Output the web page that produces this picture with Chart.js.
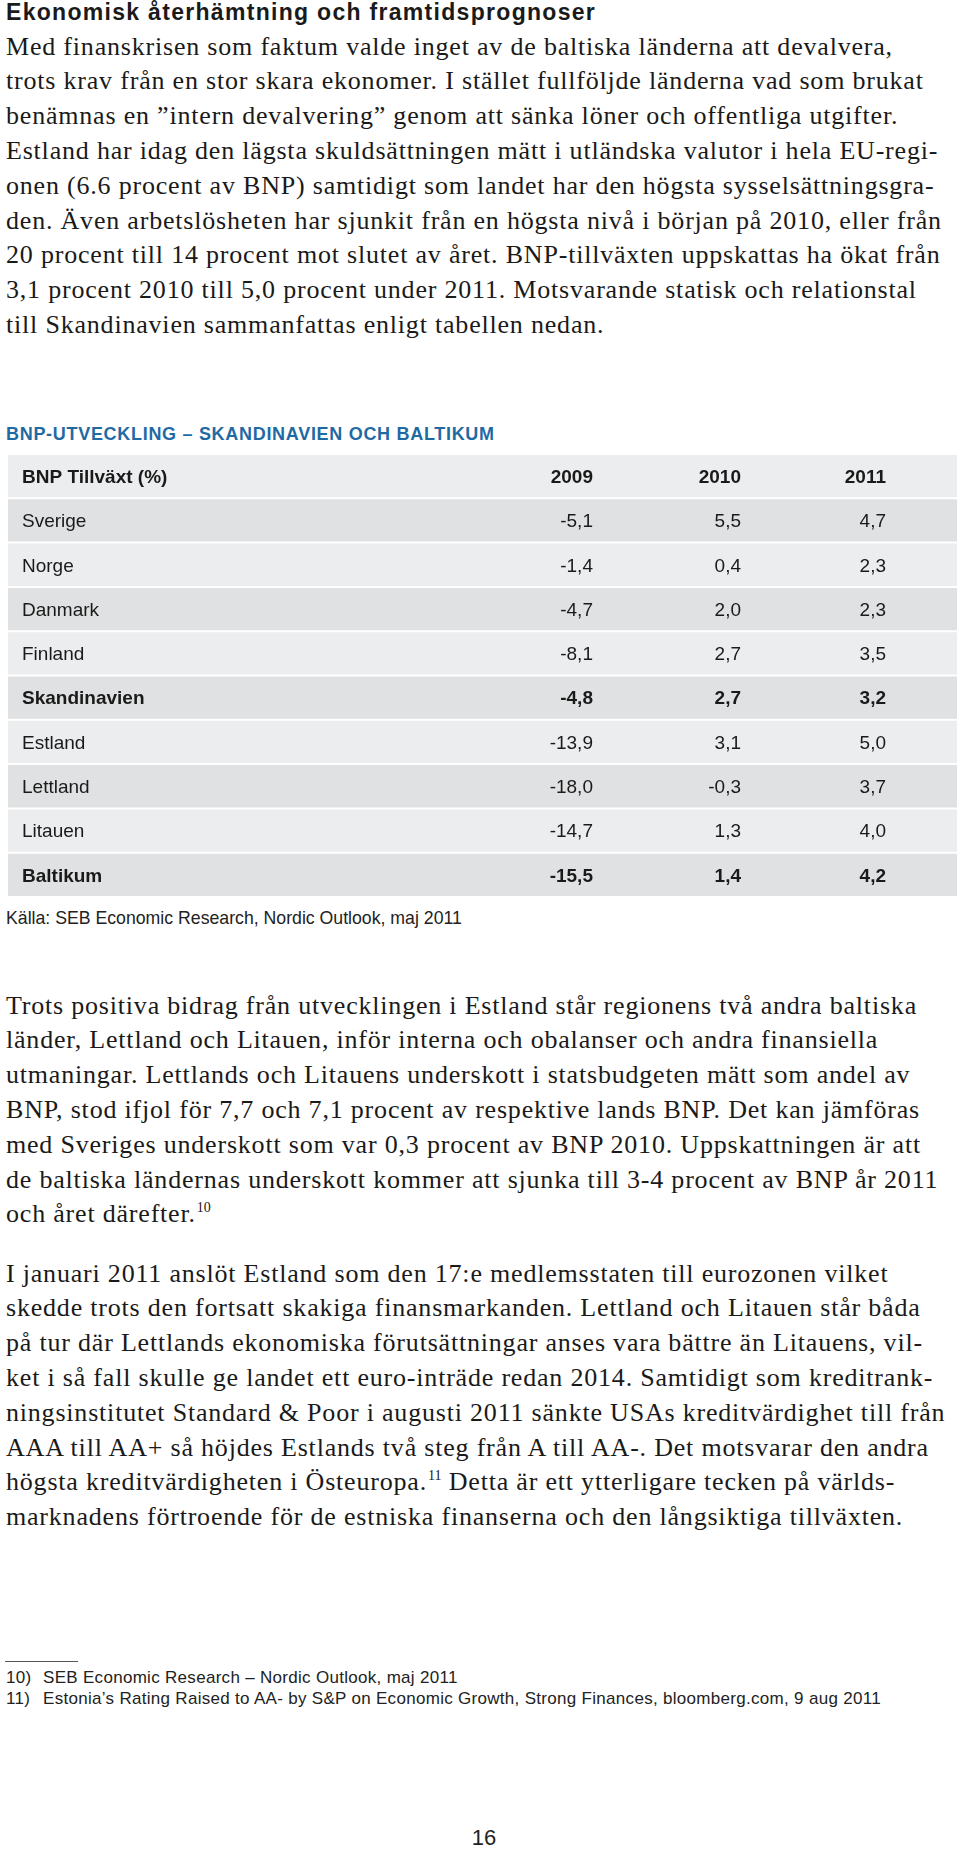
<!DOCTYPE html>
<html lang="sv">
<head>
<meta charset="utf-8">
<title>BNP-utveckling – Skandinavien och Baltikum</title>
<script src="https://cdn.jsdelivr.net/npm/chart.js@4"></script>
<style>
  html, body { margin: 0; padding: 0; background: #fff; }
  body { width: 960px; height: 1849px; position: relative; overflow: hidden; color: #1a1a1a; }
  .abs { position: absolute; white-space: nowrap; }
  .title { left: 6px; top: -1px; font: bold 23px/26px "Liberation Sans", Arial, sans-serif; letter-spacing: 1.3px; }
  .para { left: 6px; font: 26px/34.8px "Liberation Serif", "Times New Roman", serif; letter-spacing: 0.8px; }
  .para span { display: block; height: 34.8px; }
  .para sup { font-size: 14px; letter-spacing: 0; vertical-align: baseline; position: relative; top: -10px; margin-left: 1px; }
  .tbl-title { left: 6px; top: 424px; font: bold 18px/20px "Liberation Sans", Arial, sans-serif; letter-spacing: 0.7px; color: #1f6aa3; }
  .source { left: 6px; top: 908px; font: 17.7px/20px "Liberation Sans", Arial, sans-serif; color: #222; }
  #tableWrap { position: absolute; left: 8px; top: 454px; width: 949px; height: 443px; }
  .rule { position: absolute; left: 5px; top: 1661px; width: 73px; height: 1px; background: #555; }
  .fn { left: 6px; font: 17px/20px "Liberation Sans", Arial, sans-serif; letter-spacing: 0.3px; color: #222; }
  .fn b { font-weight: normal; display: inline-block; width: 37px; }
  .pageno { left: 0; width: 968px; text-align: center; top: 1826px; font: 22px/24px "Liberation Sans", Arial, sans-serif; color: #222; }
</style>
</head>
<body>
<div class="abs title">Ekonomisk återhämtning och framtidsprognoser</div>

<div class="abs para" style="top:29.6px">
  <span>Med finanskrisen som faktum valde inget av de baltiska länderna att devalvera,</span>
  <span>trots krav från en stor skara ekonomer. I stället fullföljde länderna vad som brukat</span>
  <span>benämnas en ”intern devalvering” genom att sänka löner och offentliga utgifter.</span>
  <span>Estland har idag den lägsta skuldsättningen mätt i utländska valutor i hela EU-regi-</span>
  <span>onen (6.6 procent av BNP) samtidigt som landet har den högsta sysselsättningsgra-</span>
  <span>den. Även arbetslösheten har sjunkit från en högsta nivå i början på 2010, eller från</span>
  <span>20 procent till 14 procent mot slutet av året. BNP-tillväxten uppskattas ha ökat från</span>
  <span>3,1 procent 2010 till 5,0 procent under 2011. Motsvarande statisk och relationstal</span>
  <span>till Skandinavien sammanfattas enligt tabellen nedan.</span>
</div>

<div class="abs tbl-title">BNP-UTVECKLING – SKANDINAVIEN OCH BALTIKUM</div>
<div id="tableWrap"><canvas id="gdpTable"></canvas></div>
<div class="abs source">Källa: SEB Economic Research, Nordic Outlook, maj 2011</div>

<div class="abs para" style="top:988.6px">
  <span>Trots positiva bidrag från utvecklingen i Estland står regionens två andra baltiska</span>
  <span>länder, Lettland och Litauen, inför interna och obalanser och andra finansiella</span>
  <span>utmaningar. Lettlands och Litauens underskott i statsbudgeten mätt som andel av</span>
  <span>BNP, stod ifjol för 7,7 och 7,1 procent av respektive lands BNP. Det kan jämföras</span>
  <span>med Sveriges underskott som var 0,3 procent av BNP 2010. Uppskattningen är att</span>
  <span>de baltiska ländernas underskott kommer att sjunka till 3-4 procent av BNP år 2011</span>
  <span>och året därefter.<sup>10</sup></span>
</div>

<div class="abs para" style="top:1256.6px">
  <span>I januari 2011 anslöt Estland som den 17:e medlemsstaten till eurozonen vilket</span>
  <span>skedde trots den fortsatt skakiga finansmarkanden. Lettland och Litauen står båda</span>
  <span>på tur där Lettlands ekonomiska förutsättningar anses vara bättre än Litauens, vil-</span>
  <span>ket i så fall skulle ge landet ett euro-inträde redan 2014. Samtidigt som kreditrank-</span>
  <span>ningsinstitutet Standard &amp; Poor i augusti 2011 sänkte USAs kreditvärdighet till från</span>
  <span>AAA till AA+ så höjdes Estlands två steg från A till AA-. Det motsvarar den andra</span>
  <span>högsta kreditvärdigheten i Östeuropa.<sup>11</sup> Detta är ett ytterligare tecken på världs-</span>
  <span>marknadens förtroende för de estniska finanserna och den långsiktiga tillväxten.</span>
</div>

<div class="rule"></div>
<div class="abs fn" style="top:1668px"><b>10)</b>SEB Economic Research – Nordic Outlook, maj 2011</div>
<div class="abs fn" style="top:1689px"><b>11)</b>Estonia’s Rating Raised to AA- by S&amp;P on Economic Growth, Strong Finances, bloomberg.com, 9 aug 2011</div>

<div class="abs pageno">16</div>

<script>
const headerLabel = 'BNP Tillväxt (%)';
const years = ['2009', '2010', '2011'];
const countries = ['Sverige', 'Norge', 'Danmark', 'Finland', 'Skandinavien', 'Estland', 'Lettland', 'Litauen', 'Baltikum'];
const growth2009 = [-5.1, -1.4, -4.7, -8.1, -4.8, -13.9, -18.0, -14.7, -15.5];
const growth2010 = [5.5, 0.4, 2.0, 2.7, 2.7, 3.1, -0.3, 1.3, 1.4];
const growth2011 = [4.7, 2.3, 2.3, 3.5, 3.2, 5.0, 3.7, 4.0, 4.2];
const totalRows = ['Skandinavien', 'Baltikum'];

const columns = [growth2009, growth2010, growth2011];
// right edge of each number column, as a fraction of the table width
const colRight = [0.6164, 0.7724, 0.9252];

function fmt(v) {
  return v.toFixed(1).replace('.', ',');
}

const rows = [headerLabel, ...countries];

const cellText = {
  id: 'cellText',
  afterDatasetsDraw(chart) {
    const { ctx, scales: { x, y } } = chart;
    ctx.save();
    ctx.fillStyle = '#1a1a1a';
    ctx.textBaseline = 'alphabetic';
    rows.forEach((label, i) => {
      const py = y.getPixelForValue(i) + 6.8;
      const bold = i === 0 || totalRows.includes(label);
      ctx.font = `${bold ? 'bold ' : ''}19px "Liberation Sans", Arial, sans-serif`;
      ctx.textAlign = 'left';
      ctx.fillText(label, x.getPixelForValue(0) + 14, py);
      ctx.textAlign = 'right';
      const cells = i === 0 ? years : columns.map((c) => fmt(c[i - 1]));
      cells.forEach((t, j) => ctx.fillText(t, x.getPixelForValue(colRight[j]), py));
    });
    ctx.restore();
  },
};

new Chart(document.getElementById('gdpTable'), {
  type: 'bar',
  data: {
    labels: rows,
    datasets: [{
      data: rows.map(() => [0, 1]),
      backgroundColor: rows.map((_, i) => (i % 2 ? '#e0e1e2' : '#ecedee')),
      borderWidth: 0,
      barPercentage: 1,
      categoryPercentage: 0.955,
    }],
  },
  options: {
    indexAxis: 'y',
    responsive: true,
    maintainAspectRatio: false,
    animation: false,
    events: [],
    layout: { padding: 0 },
    plugins: { legend: { display: false }, tooltip: { enabled: false } },
    scales: {
      x: { type: 'linear', min: 0, max: 1, display: false },
      y: { display: false },
    },
  },
  plugins: [cellText],
});
</script>
</body>
</html>
